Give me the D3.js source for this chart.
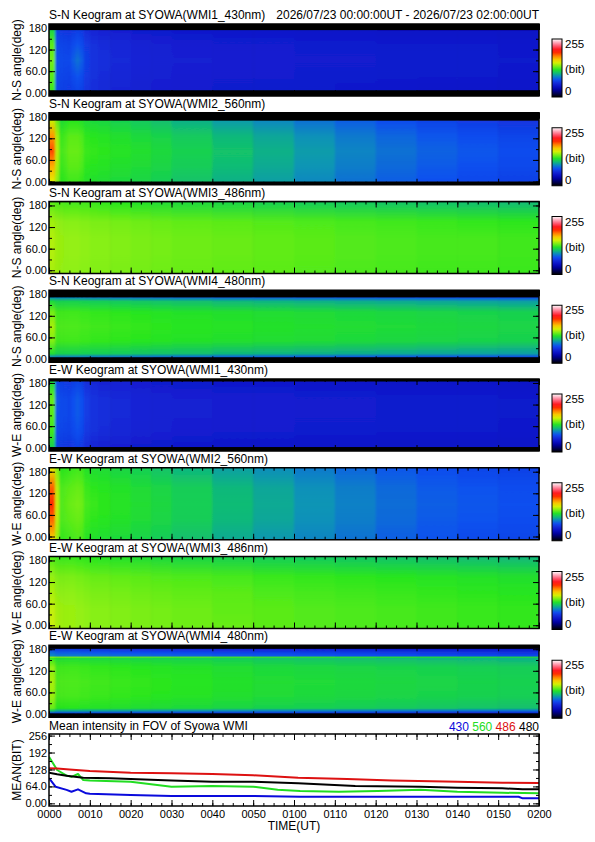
<!DOCTYPE html>
<html><head><meta charset="utf-8">
<script src="https://cdn.jsdelivr.net/npm/d3@7"></script>
<style>
body{margin:0;background:#fff}
svg{display:block}
text{font-family:"Liberation Sans",Arial,Helvetica,sans-serif}
</style>
</head><body>
<svg id="c" width="595" height="842"></svg>
<script>
// ---------------- DATA ----------------
const dateRange = "2026/07/23 00:00:00UT - 2026/07/23 02:00:00UT";
// time bin edges (minutes after 00:00 UT) for keogram columns
const timeEdges = [0,1.5,2.5,3.5,4.5,5.5,6.5,7.5,8.5,10,12,15,20,25,30,40,50,60,70,80,90,100,110,120];
const timeTicks = [0,10,20,30,40,50,60,70,80,90,100,110,120];
const timeTickLabels = ["0000","0010","0020","0030","0040","0050","0100","0110","0120","0130","0140","0150","0200"];
const angleTicks = [0,60,120,180];
const angleTickLabels = ["0.00","60.0","120","180"];
const meanTicks = [0,64,128,192,256];
const meanTickLabels = ["0.00","64.0","128","192","256"];
const cbarLabels = ["255","(bit)","0"];

// colour table positions (fraction of 255) and colours
const cmapPos = [0.00,0.06,0.14,0.22,0.30,0.37,0.43,0.48,0.54,0.60,0.67,0.74,0.80,0.90,1.00];
const cmapCol = ["#000000","#000050","#0000b4","#1420d2","#1050f0","#0a96b4","#14cc5a","#28e61e","#8cf014","#e6f000","#ffb400","#ff5000","#ff0000","#ff6e8c","#ffffff"];

// keogram angle rows (deg) and intensity values (bit), rows low->high angle, columns per time bin
const sn430Angles = [7,45,90,135,174];
const sn430 = [
 [126,72,70,69,68,70,72,70,65,62,60,58,56,55,54,53,52,52,51,51,50,50,50],
 [130,74,72,71,70,74,77,74,67,63,61,59,57,56,55,54,54,53,53,52,52,52,51],
 [134,76,74,73,73,80,85,80,69,64,62,60,58,57,56,55,55,54,54,53,53,53,52],
 [130,74,72,71,70,74,77,74,67,63,61,59,57,56,55,54,54,53,53,52,52,52,51],
 [114,70,67,66,65,67,69,67,61,58,56,55,53,52,51,50,50,49,49,48,48,48,48]];
const sn560Angles = [0,42,84,126,169];
const sn560 = [
 [152,138,122,124,126,126,126,124,120,119,118,116,114,111,107,102,97,91,85,80,76,73,70],
 [172,142,125,127,130,130,130,128,123,122,121,119,117,114,110,105,100,94,88,83,79,76,73],
 [190,145,127,129,132,132,132,130,125,124,123,121,119,116,112,107,102,96,90,85,81,78,75],
 [176,142,125,127,130,130,130,128,123,122,121,119,116,113,109,104,99,93,87,82,78,75,72],
 [148,132,118,120,122,122,122,120,117,116,115,112,109,106,102,96,91,85,80,75,71,68,65]];
const sn486Angles = [-9,45,90,135,189];
const sn486 = [
 [142,140,139,138,138,138,138,137,137,136,136,135,134,133,132,131,130,129,128,127,126,126,125],
 [144,141,140,139,139,139,139,138,138,137,137,136,135,134,133,132,131,130,129,128,127,127,126],
 [144,141,140,139,139,139,139,138,138,137,137,136,135,134,133,132,131,130,129,128,127,127,126],
 [141,139,138,137,137,137,137,136,136,135,135,134,133,132,131,130,129,128,127,126,125,124,123],
 [130,128,128,127,127,127,127,126,126,125,124,122,120,118,116,114,112,110,109,108,107,106,105]];
const sn480Angles = [5,15,50,90,130,160,171];
const sn480 = [
 [90,88,88,88,88,88,88,88,87,86,86,85,84,83,82,80,79,78,77,76,75,74,73],
 [118,112,112,112,112,112,112,111,111,110,110,109,108,107,106,104,103,102,101,100,99,98,97],
 [136,126,126,126,126,126,126,125,125,124,124,123,122,121,120,119,118,117,116,115,114,113,112],
 [142,128,128,128,128,128,128,127,127,126,126,125,124,123,122,121,120,119,118,117,116,115,114],
 [134,126,126,126,126,126,126,125,125,124,124,123,122,121,120,119,118,117,116,115,114,113,112],
 [116,112,112,112,112,112,112,111,111,110,110,109,108,107,106,104,103,102,101,100,99,98,97],
 [92,90,90,90,90,90,90,90,89,88,88,87,86,85,84,82,81,80,79,78,77,76,75]];
const ew430Angles = [2,45,90,135,184];
const ew430 = [
 [112,70,67,66,65,67,69,67,61,58,56,55,53,52,51,50,50,49,49,48,48,48,48],
 [126,74,72,71,70,73,76,73,66,63,61,59,57,56,55,54,54,53,53,52,52,52,51],
 [130,76,74,73,72,76,79,76,68,64,62,60,58,57,56,55,55,54,54,53,53,53,52],
 [132,78,74,73,72,76,79,76,68,64,62,60,58,57,56,55,55,54,54,53,53,53,52],
 [116,72,69,68,67,69,71,69,62,59,57,56,54,53,52,51,51,50,50,49,49,49,48]];
const ew560Angles = [-9,45,90,135,191];
const ew560 = [
 [160,140,124,125,126,127,128,127,121,119,118,116,113,110,106,100,95,90,85,80,77,74,72],
 [184,145,128,129,130,131,132,131,125,123,122,120,117,114,110,104,99,93,88,83,79,77,75],
 [196,147,129,130,132,133,134,133,127,125,123,121,118,115,111,105,100,94,89,84,80,78,76],
 [186,145,128,129,130,131,132,131,125,123,122,120,117,114,110,104,99,93,88,83,79,77,75],
 [152,136,122,123,124,125,126,125,120,118,117,114,111,107,103,97,92,87,82,78,75,72,70]];
const ew486Angles = [-9,45,90,135,190];
const ew486 = [
 [148,143,141,140,140,140,139,139,138,137,137,136,135,134,133,132,130,129,128,127,126,125,124],
 [147,142,141,140,140,140,139,139,138,137,137,136,135,134,133,131,130,129,128,127,126,125,124],
 [143,139,138,138,138,138,137,137,136,135,135,134,133,132,131,130,128,127,126,125,124,123,122],
 [139,136,135,135,135,135,134,134,133,132,132,131,130,129,128,127,125,124,123,122,121,120,119],
 [128,126,125,125,125,125,124,124,123,122,121,120,118,116,114,112,110,109,108,107,106,105,104]];
const ew480Angles = [2,9,16,50,90,130,155,158,161,170,181];
const ew480 = [
 [70,68,68,68,68,68,68,68,67,67,66,66,65,64,63,62,61,60,59,58,57,56,55],
 [108,100,100,100,100,100,100,99,99,98,98,97,96,95,94,92,90,89,88,87,86,85,84],
 [132,122,122,122,122,122,122,121,121,120,120,119,118,117,116,114,112,111,110,109,108,107,106],
 [140,127,127,127,127,127,127,126,126,125,125,124,123,122,121,119,117,116,115,114,113,112,111],
 [142,128,128,128,128,128,128,127,127,126,126,125,124,123,122,120,118,117,116,115,114,113,112],
 [138,126,126,126,126,126,126,125,125,124,124,123,122,121,120,118,116,115,114,113,112,111,110],
 [124,118,118,118,118,118,118,117,117,116,116,115,114,113,112,110,108,107,106,105,104,103,102],
 [140,136,136,136,136,136,136,135,135,134,134,133,132,131,130,128,126,125,124,123,122,121,120],
 [92,88,88,88,88,88,88,87,87,86,86,85,84,83,82,80,79,78,77,76,75,74,73],
 [84,80,80,80,80,80,80,79,79,78,78,77,76,75,74,72,71,70,69,68,67,66,65],
 [66,64,64,64,64,64,64,63,63,62,62,61,60,59,58,56,55,54,53,52,51,50,49]];

const panelTitles = ["S-N Keogram at SYOWA(WMI1_430nm)","S-N Keogram at SYOWA(WMI2_560nm)","S-N Keogram at SYOWA(WMI3_486nm)","S-N Keogram at SYOWA(WMI4_480nm)",
  "E-W Keogram at SYOWA(WMI1_430nm)","E-W Keogram at SYOWA(WMI2_560nm)","E-W Keogram at SYOWA(WMI3_486nm)","E-W Keogram at SYOWA(WMI4_480nm)"];
const panelYLabels = ["N-S angle(deg)","N-S angle(deg)","N-S angle(deg)","N-S angle(deg)","W-E angle(deg)","W-E angle(deg)","W-E angle(deg)","W-E angle(deg)"];
const panelAngles = [sn430Angles,sn560Angles,sn486Angles,sn480Angles,ew430Angles,ew560Angles,ew486Angles,ew480Angles];
const panelValues = [sn430,sn560,sn486,sn480,ew430,ew560,ew486,ew480];

// mean intensity lines: [minute, bit]
const mean430 = [[0,95],[1.6,63],[4.3,51],[5.5,44],[7.1,53],[9.1,38],[10,36],[20,32],[30,28],[50,28],[61.5,25],[115,25],[116,19],[120,19]];
const mean560 = [[0,176],[2,126],[4.3,105],[5.5,100],[7.1,111],[8.4,88],[10,86],[20,82],[30,63],[40,66],[50,63],[56,51],[61.5,47],[71,44],[80.5,47],[91,51],[100,44],[111,40],[120,38]];
const mean486 = [[0,133],[2,132],[5,128],[10,122],[20,116],[30,114],[40,111],[50,106],[61,97],[73,92],[84,86],[100,82],[111,78],[120,77]];
const mean480 = [[0,116],[2,110],[4.3,104],[8.4,97],[15,95],[20,92],[30,86],[40,82],[50,82],[61,76],[75,66],[91,63],[100,59],[111,57],[116,53],[120,53]];
const meanSeries = [
  {name:"430", data:mean430, color:"#0a0adc"},
  {name:"560", data:mean560, color:"#22dd22"},
  {name:"486", data:mean486, color:"#dd1111"},
  {name:"480", data:mean480, color:"#000000"}];

// ---------------- LAYOUT ----------------
const L = 49, R = 539, T0 = 24, PITCH = 88.75, H = 72;
const svg = d3.select("#c");
const defs = svg.append("defs");
const color = d3.scaleLinear().domain(cmapPos.map(d => d*255)).range(cmapCol).clamp(true);
const x = d3.scaleLinear().domain([0,120]).range([L,R]);
const FONT = '"Liberation Sans",Arial,Helvetica,sans-serif';

function styleAxis(g, fs){
  g.select(".domain").remove();
  g.selectAll("line").attr("stroke","#000").attr("stroke-width",1);
  g.attr("font-family",FONT).attr("font-size",fs||11);
  g.selectAll("text").attr("fill","#000");
}

function drawFrameAxes(g, y, top, bot, yMajor, yLabels, yMinor, xLabels){
  const xMinor = d3.range(0,120.01,2.5);
  [[d3.axisBottom(x), bot],[d3.axisTop(x), top]].forEach(([ax,yy])=>{
    const gm = g.append("g").attr("transform",`translate(0,${yy})`).call(ax.tickValues(xMinor).tickFormat("").tickSize(-3));
    styleAxis(gm);
    const gM = g.append("g").attr("transform",`translate(0,${yy})`).call(ax.tickValues(timeTicks).tickFormat("").tickSize(-6));
    styleAxis(gM);
  });
  [[d3.axisLeft(y), L],[d3.axisRight(y), R]].forEach(([ax,xx])=>{
    const gm = g.append("g").attr("transform",`translate(${xx},0)`).call(ax.tickValues(yMinor).tickFormat("").tickSize(-3));
    styleAxis(gm);
    const gM = g.append("g").attr("transform",`translate(${xx},0)`).call(ax.tickValues(yMajor).tickFormat("").tickSize(-6));
    styleAxis(gM);
  });
  const gl = g.append("g").attr("transform",`translate(${L},0)`)
    .call(d3.axisLeft(y).tickValues(yMajor).tickFormat((d,i)=>yLabels[i]).tickSize(0).tickPadding(2));
  styleAxis(gl, 11);
  gl.selectAll("line").remove();
  if (xLabels){
    const gb = g.append("g").attr("transform",`translate(0,${bot})`)
      .call(d3.axisBottom(x).tickValues(timeTicks).tickFormat((d,i)=>xLabels[i]).tickSize(0).tickPadding(4));
    styleAxis(gb, 11);
    gb.selectAll("line").remove();
  }
  g.append("rect").attr("x",L).attr("y",top).attr("width",R-L).attr("height",bot-top)
    .attr("fill","none").attr("stroke","#000").attr("stroke-width",1.5);
}

// ---------------- KEOGRAMS ----------------
panelValues.forEach((vals, i) => {
  const top = T0 + i*PITCH, bot = top + H;
  const y = d3.scaleLinear().domain([-9,191]).range([bot, top]);
  const angles = panelAngles[i];
  const amin = angles[0], amax = angles[angles.length-1];
  const g = svg.append("g");

  g.append("text").attr("x",L).attr("y",top-5).attr("font-size",12).text(panelTitles[i]);
  if (i === 0) g.append("text").attr("x",R).attr("y",top-5).attr("font-size",12).attr("text-anchor","end").text(dateRange);

  g.append("rect").attr("x",L).attr("y",top).attr("width",R-L).attr("height",H).attr("fill","#000");

  defs.append("clipPath").attr("id","clip"+i).append("rect")
    .attr("x",L).attr("y",top).attr("width",R-L).attr("height",H);
  const f = defs.append("filter").attr("id","blur"+i).attr("filterUnits","userSpaceOnUse")
    .attr("x",L-12).attr("y",top-2).attr("width",R-L+24).attr("height",H+4);
  f.append("feGaussianBlur").attr("stdDeviation","0.8 0");

  const cells = g.append("g").attr("clip-path",`url(#clip${i})`).append("g").attr("filter",`url(#blur${i})`);
  const nCols = timeEdges.length - 1;
  for (let c = 0; c < nCols; c++){
    const gid = `kg${i}_${c}`;
    const grad = defs.append("linearGradient").attr("id",gid).attr("x1",0).attr("y1",0).attr("x2",0).attr("y2",1);
    for (let k = angles.length-1; k >= 0; k--){
      grad.append("stop").attr("offset",(amax-angles[k])/(amax-amin)).attr("stop-color",color(vals[k][c]));
    }
    let x0 = x(timeEdges[c]), x1 = x(timeEdges[c+1]);
    if (c === 0) x0 -= 10;
    if (c === nCols-1) x1 += 10;
    cells.append("rect").attr("x",x0).attr("y",y(amax)).attr("width",x1-x0+0.6).attr("height",y(amin)-y(amax))
      .attr("fill",`url(#${gid})`);
  }

  drawFrameAxes(g, y, top, bot, angleTicks, angleTickLabels, d3.range(0,180.1,30), null);

  g.append("text").attr("transform",`translate(21,${(top+bot)/2}) rotate(-90)`)
    .attr("text-anchor","middle").attr("font-size",12).text(panelYLabels[i]);

  // colour bar
  const cbTop = top+15, cbH = 58, cbX = 552, cbW = 10;
  const cb = d3.scaleLinear().domain([0,255]).range([cbTop+cbH, cbTop]);
  const cgid = "cbar"+i;
  const cg = defs.append("linearGradient").attr("id",cgid).attr("x1",0).attr("y1",1).attr("x2",0).attr("y2",0);
  d3.range(0,256,15).concat([255]).forEach(v => cg.append("stop").attr("offset",v/255).attr("stop-color",color(v)));
  g.append("rect").attr("x",cbX).attr("y",cb(255)).attr("width",cbW).attr("height",cb(0)-cb(255))
    .attr("fill",`url(#${cgid})`).attr("stroke","#000").attr("stroke-width",1);
  g.append("text").attr("x",565).attr("y",top+24).attr("font-size",11.5).text(cbarLabels[0]);
  g.append("text").attr("x",565).attr("y",top+49).attr("font-size",11.5).text(cbarLabels[1]);
  g.append("text").attr("x",565).attr("y",top+71).attr("font-size",11.5).text(cbarLabels[2]);
});

// ---------------- MEAN INTENSITY ----------------
{
  const top = T0 + 8*PITCH, bot = top + H;
  const y = d3.scaleLinear().domain([-10,262]).range([bot, top]);
  const g = svg.append("g");
  g.append("text").attr("x",L).attr("y",top-4).attr("font-size",12).text("Mean intensity in FOV of Syowa WMI");
  const leg = g.append("text").attr("x",R).attr("y",top-3).attr("font-size",12).attr("text-anchor","end");
  meanSeries.forEach((s,k) => leg.append("tspan").attr("fill",s.color).text((k?" ":"")+s.name));

  defs.append("clipPath").attr("id","clipMean").append("rect").attr("x",L).attr("y",top).attr("width",R-L).attr("height",H);
  const line = d3.line().x(d => x(d[0])).y(d => y(d[1]));
  const lg = g.append("g").attr("clip-path","url(#clipMean)");
  meanSeries.forEach(s => lg.append("path").attr("d",line(s.data)).attr("fill","none")
    .attr("stroke",s.color).attr("stroke-width",2).attr("stroke-linejoin","round"));

  drawFrameAxes(g, y, top, bot, meanTicks, meanTickLabels, d3.range(0,256.1,32), timeTickLabels);

  g.append("text").attr("transform",`translate(21,${(top+bot)/2}) rotate(-90)`)
    .attr("text-anchor","middle").attr("font-size",12).text("MEAN(BIT)");
  g.append("text").attr("x",(L+R)/2).attr("y",bot+24).attr("text-anchor","middle").attr("font-size",12).text("TIME(UT)");
}
</script>
</body></html>
